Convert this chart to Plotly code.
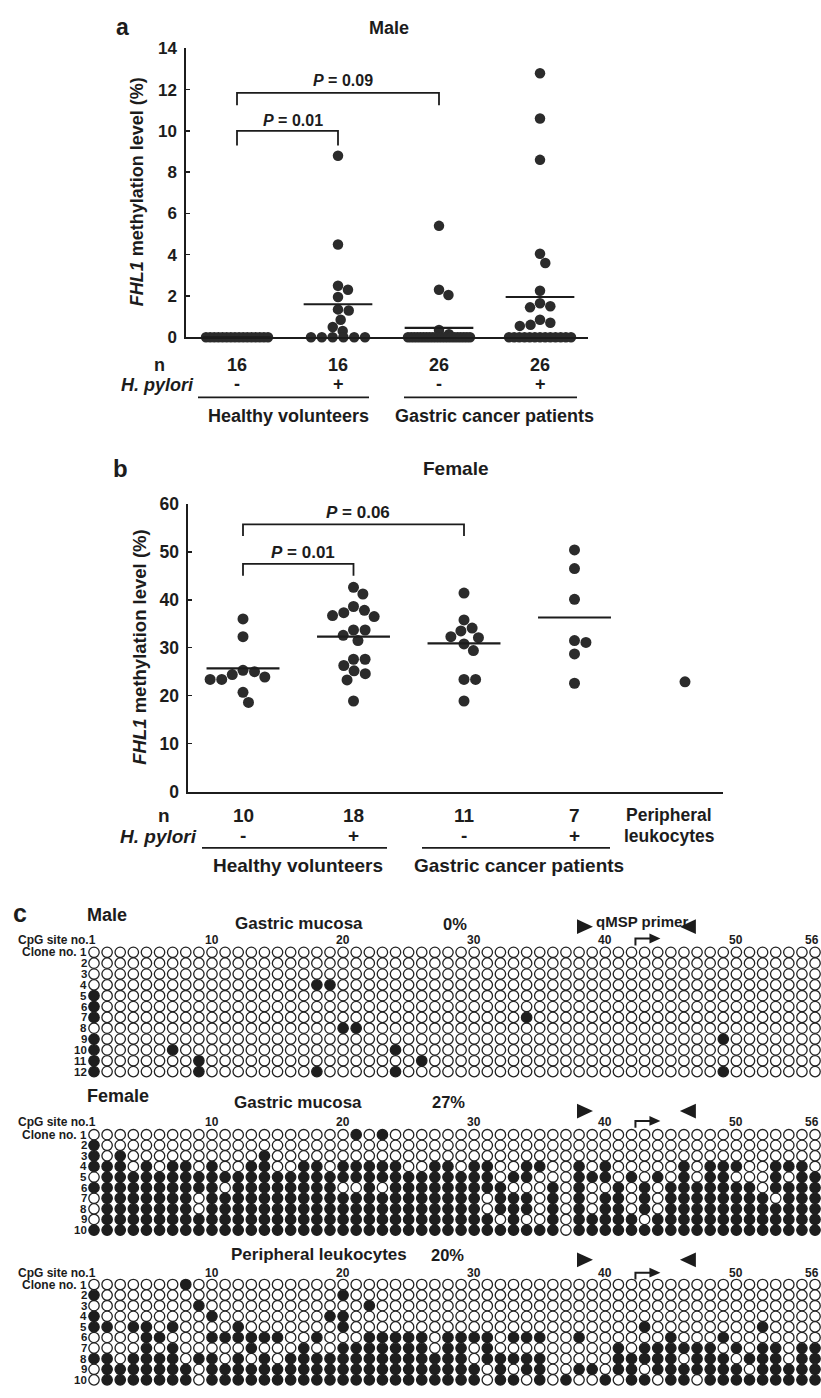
import plotly.graph_objects as go

W, H = 821, 1398
FONT = "Liberation Sans, Arial, Helvetica, sans-serif"
INK = "#1c1c1c"
DOT = "#2b2b2b"

# ---------------- data: panel a (Male, FHL1 methylation %) ----------------
a_n_labels = ["16", "16", "26", "26"]
a_hp_labels = ["-", "+", "-", "+"]
a_hv_neg = [0, 0, 0, 0, 0, 0, 0, 0, 0, 0, 0, 0, 0, 0, 0, 0]
a_hv_pos = [8.8, 4.5, 2.5, 2.3, 1.95, 1.35, 1.3, 0.85, 0.5, 0.3, 0, 0, 0, 0, 0, 0]
a_gc_neg = [5.4, 2.3, 2.05, 0.35, 0.15,
            0, 0, 0, 0, 0, 0, 0, 0, 0, 0, 0, 0, 0, 0, 0, 0, 0, 0, 0, 0, 0]
a_gc_pos = [12.8, 10.6, 8.6, 4.05, 3.6, 2.25, 1.65, 1.5, 1.45, 0.85, 0.7, 0.6, 0.55,
            0, 0, 0, 0, 0, 0, 0, 0, 0, 0, 0, 0, 0]
a_means = [0.0, 1.6, 0.45, 1.95]
a_yticks = [0, 2, 4, 6, 8, 10, 12, 14]
a_pvals = ["0.01", "0.09"]

# ---------------- data: panel b (Female) ----------------
b_n_labels = ["10", "18", "11", "7"]
b_hp_labels = ["-", "+", "-", "+"]
b_hv_neg = [36.0, 32.3, 25.3, 25.0, 24.4, 23.9, 23.4, 23.4, 20.7, 18.6]
b_hv_pos = [42.6, 41.2, 38.6, 37.8, 37.3, 36.7, 36.5, 33.7, 33.7, 32.6, 31.5,
            27.6, 27.6, 26.3, 25.2, 24.6, 23.3, 18.9]
b_gc_neg = [41.4, 35.8, 34.1, 33.5, 32.3, 32.1, 30.8, 29.4, 23.4, 23.4, 18.9]
b_gc_pos = [50.4, 46.5, 40.1, 31.5, 31.1, 28.7, 22.6]
b_leuk = [22.9]
b_means = [25.7, 32.3, 30.9, 36.3]
b_yticks = [0, 10, 20, 30, 40, 50, 60]
b_pvals = ["0.01", "0.06"]

# ---------------- data: panel c (bisulfite sequencing, 1 = methylated) ----------------
c_site_labels = [10, 20, 30, 40, 50]
c_last_site = 56
male_rows = [
    "0000000000 0000000000 0000000000 0000000000 0000000000 000000",
    "0000000000 0000000000 0000000000 0000000000 0000000000 000000",
    "0000000000 0000000000 0000000000 0000000000 0000000000 000000",
    "0000000000 0000000110 0000000000 0000000000 0000000000 000000",
    "1000000000 0000000000 0000000000 0000000000 0000000000 000000",
    "1000000000 0000000000 0000000000 0000000000 0000000000 000000",
    "1000000000 0000000000 0000000000 0001000000 0000000000 000000",
    "0000000000 0000000001 1000000000 0000000000 0000000000 000000",
    "1000000000 0000000000 0000000000 0000000000 0000000010 000000",
    "1000001000 0000000000 0001000000 0000000000 0000000000 000000",
    "1000000010 0000000000 0000010000 0000000000 0000000000 000000",
    "1000000010 0000000100 0001000000 0000000000 0000000010 000000",
]
female_rows = [
    "0000000000 0000000000 1010000000 0000000000 0000000000 000000",
    "1000000000 0000000000 0000000000 0000000000 0000000000 000000",
    "1010000000 0001000000 0000000000 0000000000 0000000000 000000",
    "1110101101 0011001101 1111001101 1001100101 0000010111 001110",
    "0111111111 1111111111 1111111111 1011000111 0101010110 001011",
    "1111111111 0111111110 0101111111 1100010100 1010111111 101111",
    "0111111101 1111111111 1111111111 0111010101 1010111111 110111",
    "0111111101 1111111111 1111111111 0111010101 1010111111 111111",
    "0111111111 1111111111 1111111111 1010010111 1101111111 111111",
    "1111111111 1111111111 1111111111 1111110111 1111111111 111111",
]
leuk_rows = [
    "0000000100 0000000000 0000000000 0000000000 0000000000 000000",
    "1000000000 0000000001 0000000000 0000000000 0000000000 000000",
    "0000000010 0000000000 0100000000 0000000000 0000000000 000000",
    "1000000001 0000000011 0000000000 0000000000 0000000000 000000",
    "1101101000 0100000001 0000000000 0000000000 0010000000 010000",
    "0000110001 1111100100 0111110111 1011100100 0000100010 000000",
    "0000101000 0010001001 1111110110 1000000000 1011111101 011011",
    "1101111011 0101011111 1111111110 1111100000 1111101110 111011",
    "0111111101 1111111111 1111111111 0101100110 1101111111 011111",
    "0111111101 1111111111 1111111111 0110101001 0110110111 111111",
]
c_pct = ["0%", "27%", "20%"]
primer_fwd_site, primer_rev_site, tss_site = 38.45, 46.3, 42.3


# ---------------- helpers ----------------
def PX(x):
    return x / W


def PY(y):
    return 1 - y / H


def swarm(vals, ypx, d, zero_span):
    offs = [0.0] * len(vals)
    zeros = [i for i, v in enumerate(vals) if v == 0]
    nz = len(zeros)
    if nz > 1:
        step = min(d, zero_span / (nz - 1))
        for j, i in enumerate(zeros):
            offs[i] = (j - (nz - 1) / 2) * step
    placed = []
    for i in sorted((i for i, v in enumerate(vals) if v != 0), key=lambda i: -vals[i]):
        y = vals[i] * ypx
        cands = [0.0]
        for px, py in placed:
            dy = abs(y - py)
            if dy < d:
                dx = (d * d - dy * dy) ** 0.5
                cands += [px + dx, px - dx]
        cands.sort(key=lambda c: (abs(c), -c))
        for c in cands:
            if all((c - px) ** 2 + (y - py) ** 2 >= d * d - 1e-6 for px, py in placed):
                offs[i] = c
                break
        placed.append((offs[i], y))
    return offs


ann = []
shapes = []


def text(x, y, s, size, xref="paper", yref="paper", xanchor="center", yanchor="middle", angle=0):
    ann.append(dict(x=x, y=y, xref=xref, yref=yref, text=s, showarrow=False,
                    font=dict(family=FONT, size=size, color=INK),
                    xanchor=xanchor, yanchor=yanchor, textangle=angle))


def hline(x0, x1, y, w=1.6):
    shapes.append(dict(type="line", xref="paper", yref="paper", x0=PX(x0), x1=PX(x1),
                       y0=PY(y), y1=PY(y), line=dict(color=INK, width=w)))


fig = go.Figure()

# ---------------- panel a geometry ----------------
A_X0, A_X1, A_G1, A_XPX = 186, 588, 237, 101.0
A_YT, A_YB = 39, 332
A_YPX = (A_YB - A_YT) / 14.0
a_xr = [1 - (A_G1 - A_X0) / A_XPX, 1 - (A_G1 - A_X0) / A_XPX + (A_X1 - A_X0) / A_XPX]

for gi, vals in enumerate([a_hv_neg, a_hv_pos, a_gc_neg, a_gc_pos], start=1):
    offs = swarm(vals, A_YPX, 10.8, 62)
    fig.add_trace(go.Scatter(x=[gi + o / A_XPX for o in offs], y=vals, mode="markers",
                             xaxis="x", yaxis="y", cliponaxis=False, showlegend=False,
                             hoverinfo="skip", marker=dict(size=10.5, color=DOT)))
for gi, m in enumerate(a_means, start=1):
    fig.add_trace(go.Scatter(x=[gi - 0.34, gi + 0.34], y=[m, m], mode="lines", xaxis="x", yaxis="y",
                             line=dict(color=INK, width=2.2), cliponaxis=False,
                             showlegend=False, hoverinfo="skip"))
a_brackets = [(1, 2, 10.0, 9.3, 10.5), (1, 3, 11.85, 11.25, 12.45)]
for (g0, g1, top, leg, ly), p in zip(a_brackets, a_pvals):
    fig.add_trace(go.Scatter(x=[g0, g0, g1, g1], y=[leg, top, top, leg], mode="lines",
                             xaxis="x", yaxis="y", line=dict(color=INK, width=1.8),
                             showlegend=False, hoverinfo="skip"))
    text((g0 + g1) / 2 + 0.05, ly, "<b><i>P</i> = %s</b>" % p, 16, xref="x", yref="y")

text(PX(122), PY(17), "<b>a</b>", 23)
text(PX(389), PY(18), "<b>Male</b>", 18)
text(PX(137), PY(185), "<b><i>FHL1</i> methylation level (%)</b>", 18, angle=-90)
text(PX(159), PY(360), "<b>n</b>", 18)
text(PX(196), PY(380), "<b><i>H. pylori</i></b>", 18, xanchor="right")
for i, (nl, hp) in enumerate(zip(a_n_labels, a_hp_labels), start=1):
    text(i, PY(360), "<b>%s</b>" % nl, 18, xref="x")
    text(i, PY(379), "<b>%s</b>" % hp, 18, xref="x")
hline(198, 369, 393)
hline(404, 577, 393)
text(PX(288), PY(412), "<b>Healthy volunteers</b>", 18)
text(PX(494), PY(412), "<b>Gastric cancer patients</b>", 18)

# ---------------- panel b geometry ----------------
B_X0, B_X1, B_G1, B_XPX = 188, 723, 243, 110.5
B_YT, B_YB = 501, 793
B_YPX = (B_YB - B_YT) / 60.0
b_xr = [1 - (B_G1 - B_X0) / B_XPX, 1 - (B_G1 - B_X0) / B_XPX + (B_X1 - B_X0) / B_XPX]

for gi, vals in enumerate([b_hv_neg, b_hv_pos, b_gc_neg, b_gc_pos, b_leuk], start=1):
    offs = swarm(vals, B_YPX, 11.6, 62)
    fig.add_trace(go.Scatter(x=[gi + o / B_XPX for o in offs], y=vals, mode="markers",
                             xaxis="x2", yaxis="y2", cliponaxis=False, showlegend=False,
                             hoverinfo="skip", marker=dict(size=11, color=DOT)))
for gi, m in enumerate(b_means, start=1):
    fig.add_trace(go.Scatter(x=[gi - 0.33, gi + 0.33], y=[m, m], mode="lines", xaxis="x2", yaxis="y2",
                             line=dict(color=INK, width=2.2), showlegend=False, hoverinfo="skip"))
b_brackets = [(1, 2, 47.5, 45.0, 49.9), (1, 3, 55.7, 53.3, 58.1)]
for (g0, g1, top, leg, ly), p in zip(b_brackets, b_pvals):
    fig.add_trace(go.Scatter(x=[g0, g0, g1, g1], y=[leg, top, top, leg], mode="lines",
                             xaxis="x2", yaxis="y2", line=dict(color=INK, width=1.8),
                             showlegend=False, hoverinfo="skip"))
    text((g0 + g1) / 2 + 0.04, ly, "<b><i>P</i> = %s</b>" % p, 17, xref="x2", yref="y2")

text(PX(120), PY(465), "<b>b</b>", 24)
text(PX(455), PY(465), "<b>Female</b>", 19)
text(PX(140), PY(647), "<b><i>FHL1</i> methylation level (%)</b>", 18.5, angle=-90)
text(PX(164), PY(817), "<b>n</b>", 19)
text(PX(199), PY(838), "<b><i>H. pylori</i></b>", 19, xanchor="right")
for i, (nl, hp) in enumerate(zip(b_n_labels, b_hp_labels), start=1):
    text(i, PY(817), "<b>%s</b>" % nl, 19, xref="x2")
    text(i, PY(837), "<b>%s</b>" % hp, 19, xref="x2")
text(PX(669), PY(817), "<b>Peripheral</b>", 17.5)
text(PX(669), PY(838), "<b>leukocytes</b>", 17.5)
hline(202, 387, 850)
hline(422, 610, 850)
text(PX(298), PY(868), "<b>Healthy volunteers</b>", 19)
text(PX(519), PY(868), "<b>Gastric cancer patients</b>", 19)

# ---------------- panel c ----------------
SX0, SDX = 94.0, 13.11


def site_px(s):
    return SX0 + (s - 1) * SDX


c_xr = [0.45, 56.45]
grids = [
    dict(rows=male_rows, xa="x3", ya="y3", row0=956.0, drow=11.0, sex="Male", sex_y=918,
         title="Gastric mucosa", tcx=299, ty=927, pcx=455, label_y=943, tri_y=930, arr_y=942),
    dict(rows=female_rows, xa="x4", ya="y4", row0=1141.0, drow=10.75, sex="Female", sex_y=1102,
         title="Gastric mucosa", tcx=298, ty=1108, pcx=448, label_y=1128, tri_y=1117, arr_y=1127),
    dict(rows=leuk_rows, xa="x5", ya="y5", row0=1293.0, drow=10.75, sex=None, sex_y=None,
         title="Peripheral leukocytes", tcx=319, ty=1263, pcx=447, label_y=1281, tri_y=1268, arr_y=1281),
]

text(PX(20), PY(916), "<b>c</b>", 25)
text(PX(642), PY(925), "<b>qMSP primer</b>", 15)

for g, pct in zip(grids, c_pct):
    rows = [r.replace(" ", "") for r in g["rows"]]
    fx, fy, ox, oy = [], [], [], []
    for r, s in enumerate(rows, start=1):
        for k, ch in enumerate(s, start=1):
            if ch == "1":
                fx.append(k); fy.append(r)
            else:
                ox.append(k); oy.append(r)
    fig.add_trace(go.Scatter(x=ox, y=oy, mode="markers", xaxis=g["xa"], yaxis=g["ya"],
                             cliponaxis=False, showlegend=False, hoverinfo="skip",
                             marker=dict(symbol="circle", size=10.4, color="white",
                                         line=dict(color="#222222", width=1.3))))
    fig.add_trace(go.Scatter(x=fx, y=fy, mode="markers", xaxis=g["xa"], yaxis=g["ya"],
                             cliponaxis=False, showlegend=False, hoverinfo="skip",
                             marker=dict(symbol="circle", size=10.4, color="#1e1e1e",
                                         line=dict(color="#1e1e1e", width=1.3))))
    if g["sex"]:
        text(PX(85), PY(g["sex_y"]), "<b>%s</b>" % g["sex"], 18, xanchor="left")
    text(PX(g["tcx"]), PY(g["ty"]), "<b>%s</b>" % g["title"], 17)
    text(PX(g["pcx"]), PY(g["ty"]), "<b>%s</b>" % pct, 16.5)
    text(1.3, PY(g["label_y"]), "<b>CpG site no.1</b>", 12, xref=g["xa"], xanchor="right")
    for s in c_site_labels:
        text(s, PY(g["label_y"]), "<b>%d</b>" % s, 12, xref=g["xa"])
    text(PX(820.5), PY(g["label_y"]), "<b>%d</b>" % c_last_site, 12, xanchor="right")
    text(PX(79), 1, "<b>Clone no.</b>", 12, yref=g["ya"], xanchor="right")
    for r in range(1, len(rows) + 1):
        text(PX(89), r, "<b>%d</b>" % r, 11.5, yref=g["ya"], xanchor="right")
    # primer triangles
    cx, cy = site_px(primer_fwd_site), g["tri_y"]
    shapes.append(dict(type="path", xref="paper", yref="paper", fillcolor=INK, line=dict(width=0),
                       path="M %f %f L %f %f L %f %f Z" % (PX(cx - 8), PY(cy - 7.5), PX(cx + 8), PY(cy),
                                                          PX(cx - 8), PY(cy + 7.5))))
    cx = site_px(primer_rev_site)
    shapes.append(dict(type="path", xref="paper", yref="paper", fillcolor=INK, line=dict(width=0),
                       path="M %f %f L %f %f L %f %f Z" % (PX(cx + 8), PY(cy - 7.5), PX(cx - 8), PY(cy),
                                                          PX(cx + 8), PY(cy + 7.5))))
    # transcription start arrow
    ax, ay = site_px(tss_site), g["arr_y"]
    shapes.append(dict(type="path", xref="paper", yref="paper", line=dict(color=INK, width=2),
                       path="M %f %f L %f %f L %f %f" % (PX(ax), PY(ay + 7), PX(ax), PY(ay),
                                                        PX(ax + 16), PY(ay))))
    shapes.append(dict(type="path", xref="paper", yref="paper", fillcolor=INK, line=dict(width=0),
                       path="M %f %f L %f %f L %f %f Z" % (PX(ax + 14), PY(ay - 5), PX(ax + 25), PY(ay),
                                                          PX(ax + 14), PY(ay + 5))))

# ---------------- layout ----------------
def grid_axes(g):
    n = len(g["rows"])
    top = g["row0"] - 0.5 * g["drow"]
    bot = g["row0"] + (n - 0.5) * g["drow"]
    xa = dict(domain=[PX(site_px(c_xr[0])), PX(site_px(c_xr[1]))], range=c_xr, visible=False,
              anchor=g["ya"])
    ya = dict(domain=[PY(bot), PY(top)], range=[n + 0.5, 0.5], visible=False, anchor=g["xa"])
    return xa, ya


layout = dict(
    width=W, height=H, autosize=False, margin=dict(l=0, r=0, t=0, b=0),
    paper_bgcolor="white", plot_bgcolor="rgba(0,0,0,0)", showlegend=False,
    font=dict(family=FONT, color=INK),
    xaxis=dict(domain=[PX(A_X0), PX(A_X1)], range=a_xr, showline=True, linecolor=INK, linewidth=2,
               showticklabels=False, ticks="", showgrid=False, zeroline=False, anchor="y"),
    yaxis=dict(domain=[PY(A_YB), PY(A_YT)], range=[0, 14], showline=True, linecolor=INK, linewidth=1.6,
               ticks="inside", ticklen=4, tickwidth=1.5, tickcolor=INK, tickvals=a_yticks,
               tickfont=dict(family=FONT, size=17, color=INK, weight="bold"), ticklabelstandoff=4,
               showgrid=False, zeroline=False, anchor="x"),
    xaxis2=dict(domain=[PX(B_X0), PX(B_X1)], range=b_xr, showline=True, linecolor=INK, linewidth=2,
                showticklabels=False, ticks="", showgrid=False, zeroline=False, anchor="y2"),
    yaxis2=dict(domain=[PY(B_YB), PY(B_YT)], range=[0, 60], showline=True, linecolor=INK, linewidth=1.6,
                ticks="inside", ticklen=4, tickwidth=1.5, tickcolor=INK, tickvals=b_yticks,
                tickfont=dict(family=FONT, size=17.5, color=INK, weight="bold"), ticklabelstandoff=4,
                showgrid=False, zeroline=False, anchor="x2"),
    annotations=ann, shapes=shapes,
)
for i, g in enumerate(grids, start=3):
    xa, ya = grid_axes(g)
    layout["xaxis%d" % i] = xa
    layout["yaxis%d" % i] = ya

fig.update_layout(**layout)
fig.write_html("out.html", config={"displayModeBar": False, "staticPlot": True},
               post_script="document.body.style.margin='0';document.body.style.overflow='hidden';")
